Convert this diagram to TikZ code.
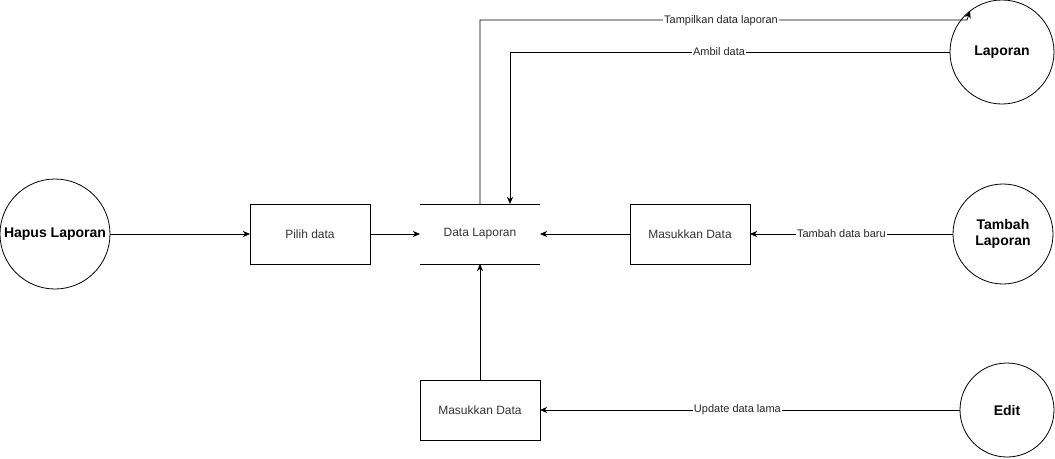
\documentclass[tikz,border=0pt]{standalone}
\usepackage{fontspec}
\setmainfont{Liberation Sans}
\usetikzlibrary{arrows.meta}
\begin{document}
\begin{tikzpicture}[x=1pt,y=-1pt,
  every node/.style={inner sep=0pt, outer sep=0pt},
  proc/.style={draw, line width=0.8pt, minimum width=120pt, minimum height=60pt, font=\fontsize{12}{14}\selectfont, text=black!80},
  ent/.style={draw, line width=0.8pt, circle, font=\fontsize{14}{16}\selectfont\bfseries, align=center},
  store/.style={minimum width=120pt, minimum height=60pt, font=\fontsize{12}{14}\selectfont, text=black!80},
  flow/.style={line width=0.8pt, -{Stealth[length=7pt,width=6pt,inset=2pt]}},
  lbl/.style={fill=white, inner sep=1pt, font=\fontsize{11}{13}\selectfont, text=black!85}]
\useasboundingbox (0,0) rectangle (1055,458);
\node[ent, minimum size=110pt] (hapus) at (55,234) {Hapus Laporan};
\node[proc] (pilih) at (310,234) {Pilih data};
\node[store] (store) at (480,234) {Data Laporan};
\draw[line width=0.8pt] (store.north west) -- (store.north east);
\draw[line width=0.8pt] (store.south west) -- (store.south east);
\node[proc] (masuk1) at (690,234) {Masukkan Data};
\node[proc] (masuk2) at (480,410) {Masukkan Data};
\node[ent, minimum size=104pt] (lap) at (1002,52) {Laporan};
\node[ent, minimum size=100pt] (tambah) at (1003,234) {Tambah\\Laporan};
\node[ent, minimum size=94pt] (edit) at (1007,410) {Edit};
\coordinate (bend) at (967,20);
\draw[flow] (hapus.east) -- (pilih.west);
\draw[flow] (pilih.east) -- (store.west);
\draw[flow] (masuk1.west) -- (store.east);
\draw[flow] (tambah.west) -- node[lbl, pos=0.55] {Tambah data baru} (masuk1.east);
\draw[flow] (edit.west) -- node[lbl, pos=0.53] {Update data lama} (masuk2.east);
\draw[flow] (masuk2.north) -- (store.south);
\draw[flow] (store.north) |- (bend) -- (lap.128);
\node[lbl] (l1) at (721,21) {Tampilkan data laporan};
\draw[flow] (lap.west) -| ([xshift=30pt]store.north);
\node[lbl] (l2) at (719,52) {Ambil data};
\end{tikzpicture}
\end{document}
